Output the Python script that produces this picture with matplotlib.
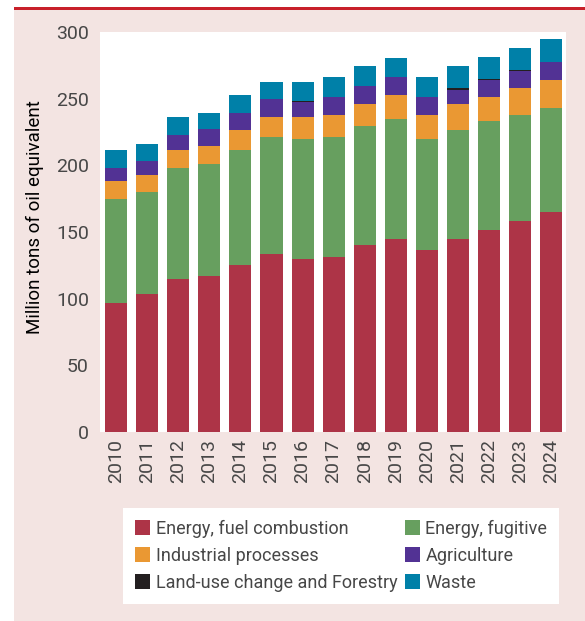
import matplotlib
matplotlib.use("Agg")
import matplotlib.pyplot as plt
from matplotlib.patches import Rectangle, Patch
import numpy as np

plt.rcParams['font.family'] = ['Roboto', 'DejaVu Sans']

years = [str(y) for y in range(2010, 2025)]
fuel_combustion = [96.8, 103.8, 114.8, 117.0, 125.3, 133.5, 129.8, 131.3, 140.3, 144.8, 136.5, 144.8, 151.5, 158.3, 165.0]
fugitive = [78.0, 76.2, 83.2, 84.0, 86.2, 87.8, 90.0, 90.0, 89.2, 90.0, 83.3, 81.7, 81.8, 79.5, 78.0]
industrial = [13.4, 12.8, 13.5, 13.5, 15.0, 15.0, 16.5, 16.5, 16.5, 18.0, 18.0, 19.5, 18.0, 20.2, 21.0]
agriculture = [10.0, 10.4, 11.3, 12.8, 12.8, 13.5, 11.4, 13.5, 13.5, 13.5, 13.5, 10.5, 12.8, 12.8, 13.5]
land_use = [0.0, 0.0, 0.0, 0.0, 0.0, 0.0, 0.5, 0.0, 0.0, 0.0, 0.0, 1.5, 0.7, 0.7, 0.0]
waste = [13.3, 12.8, 13.5, 12.0, 13.5, 12.7, 14.3, 15.0, 15.0, 14.2, 15.0, 16.5, 16.5, 16.5, 17.3]

series = [
    ("Energy, fuel combustion", fuel_combustion, "#ad3447"),
    ("Energy, fugitive", fugitive, "#679f5f"),
    ("Industrial processes", industrial, "#ea9833"),
    ("Agriculture", agriculture, "#523294"),
    ("Land-use change and Forestry", land_use, "#231f20"),
    ("Waste", waste, "#0080a8"),
]

text_color = "#474747"
bg_color = "#f3e4e2"

fig = plt.figure(figsize=(5.85, 6.21), dpi=100)
W, H = 585, 621

# page background panel and red rule
fig.patches.append(Rectangle((14 / W, 0), 1 - 14 / W, (H - 10) / H, transform=fig.transFigure,
                             facecolor=bg_color, edgecolor="none", zorder=-5))
fig.patches.append(Rectangle((14 / W, (H - 10) / H), 1 - 14 / W, 3 / H, transform=fig.transFigure,
                             facecolor="#c8202a", edgecolor="none", zorder=-5))

ax = fig.add_axes([100 / W, (H - 432) / H, 466 / W, 400 / H])
ax.set_facecolor("white")

x = np.arange(len(years))
bottom = np.zeros(len(years))
handles = {}
for name, vals, color in series:
    vals = np.array(vals)
    ax.bar(x, vals, width=0.71, bottom=bottom, color=color, linewidth=0)
    bottom += vals
    handles[name] = Patch(facecolor=color, edgecolor="none")

ax.set_xlim(-0.52, 14.48)
ax.set_ylim(0, 300)
ax.set_yticks([0, 50, 100, 150, 200, 250, 300])
ax.set_xticks(x)
ax.set_xticklabels(years, rotation=90)
ax.tick_params(axis="both", length=0, labelsize=14, colors=text_color)
ax.tick_params(axis="y", pad=8)
ax.tick_params(axis="x", pad=5)
for s in ax.spines.values():
    s.set_visible(False)

ax.set_ylabel("Million tons of oil equivalent", fontsize=13.5, color="black", va="center")
ax.yaxis.set_label_coords((35 - 100) / 466, (432 - 217) / 400)

order = ["Energy, fuel combustion", "Industrial processes", "Land-use change and Forestry",
         "Energy, fugitive", "Agriculture", "Waste"]
leg = fig.legend([handles[n] for n in order], order, ncol=2,
                 loc="upper left", bbox_to_anchor=(123 / W, (H - 508) / H, 436 / W, 0.0),
                 mode="expand", frameon=True, fancybox=False, framealpha=1,
                 facecolor="white", edgecolor="none",
                 prop={"size": 13},
                 handlelength=0.85, handleheight=0.85, handletextpad=0.3,
                 labelspacing=0.5, borderpad=0.65, borderaxespad=0, columnspacing=1.0)
for t in leg.get_texts():
    t.set_color(text_color)

fig.savefig("out.png", dpi=100, facecolor="white")
